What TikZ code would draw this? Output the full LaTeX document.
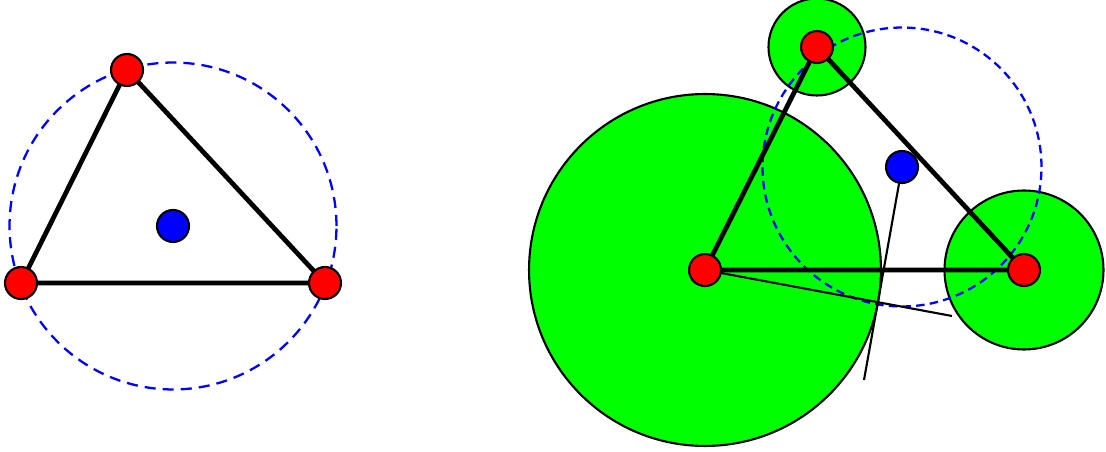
\documentclass[tikz,border=0pt]{standalone}
\tikzset{
  vertex/.style={circle,draw,line width=1.2pt,fill=red,minimum size=0.64cm,inner sep=0pt},
  centre/.style={circle,draw,line width=1.2pt,fill=blue,minimum size=0.64cm,inner sep=0pt},
  edge/.style={line width=2.7pt},
  disk/.style={draw,line width=1.2pt,fill=green},
  guide/.style={line width=1.2pt},
}
\begin{document}
\begin{tikzpicture}[x=0.02cm,y=-0.02cm]
\useasboundingbox (0,0) rectangle (1106,452);
% left triangle
\coordinate (p1) at (127,70);
\coordinate (p2) at (21,283);
\coordinate (p3) at (325,283);
\coordinate (p0) at (173,226);
\draw[blue,line width=1.3pt,dash pattern=on 6.3pt off 4pt] (p0) circle[radius=3.27cm];
\draw[edge] (p1) -- (p2) -- (p3) -- cycle;
\node[vertex] (a1) at (p1) {};
\node[vertex] (a2) at (p2) {};
\node[vertex] (a3) at (p3) {};
\node[centre] (a0) at (p0) {};
% right triangle with disks
\coordinate (q1) at (817,47);
\coordinate (q2) at (705,270);
\coordinate (q3) at (1024,270);
\coordinate (q0) at (902,167);
\draw[disk] (q2) circle[radius=3.52cm];
\draw[disk] (q1) circle[radius=0.97cm];
\draw[disk] (q3) circle[radius=1.59cm];
\draw[blue,line width=1.3pt,dash pattern=on 4.8pt off 3pt] (q0) circle[radius=2.79cm];
\coordinate (t1) at (952,316);
\coordinate (t2) at (864,380);
\draw[guide] (q2) -- (t1);
\draw[guide] (q0) -- (t2);
\draw[edge] (q1) -- (q2) -- (q3) -- cycle;
\node[vertex] (b1) at (q1) {};
\node[vertex] (b2) at (q2) {};
\node[vertex] (b3) at (q3) {};
\node[centre] (b0) at (q0) {};
\end{tikzpicture}
\end{document}
